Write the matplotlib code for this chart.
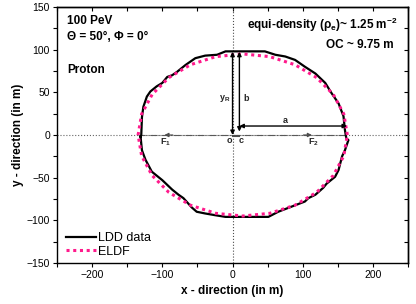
import numpy as np
import matplotlib
matplotlib.use("Agg")
import matplotlib.pyplot as plt
from matplotlib.ticker import MultipleLocator

plt.rcParams["font.family"] = ["Liberation Sans", "DejaVu Sans"]
plt.rcParams["mathtext.default"] = "regular"

# LDD data (equi-density contour)
ldd_x = [-131, -130, -129, -127, -122, -117, -108, -100, -93, -86, -79, -67, -53,
         -39, -22, -10, 1, 20, 46, 61, 75, 89, 103, 118, 132, 141, 151, 158, 160,
         162, 165, 160, 156, 151, 146, 134, 129, 118, 108, 103, 84, 65, 51, 20,
         -10, -25, -39, -51, -58, -70, -77, -86, -100, -115, -124, -129, -131]
ldd_y = [-2, 0, 21, 33, 45, 51, 57, 61, 68, 70, 74, 82, 90,
         93, 94, 98, 98, 98, 98, 94, 92, 88, 80, 72, 61, 49, 37, 22, 6,
         -4, -6, -18, -25, -41, -49, -57, -62, -70, -74, -78, -84, -90, -96, -96,
         -96, -94, -92, -90, -85, -74, -70, -64, -53, -43, -29, -18, -2]

# ELDF (fitted ellipse)
eldf_x = [163.5, 158.4, 143.5, 119.8, 89.0, 53.1, 14.5, -24.1, -60.0, -90.8, -114.5,
          -129.4, -134.5, -129.4, -114.5, -90.8, -60.0, -24.1, 14.5, 53.1, 89.0,
          119.8, 143.5, 158.4, 163.5]
eldf_y = [0, 24.6, 47.5, 67.2, 82.3, 91.8, 95.0, 91.8, 82.3, 67.2, 47.5,
          24.6, 0, -24.6, -47.5, -67.2, -82.3, -91.8, -95.0, -91.8, -82.3,
          -67.2, -47.5, -24.6, 0]

oc = 9.75
y_r = 97.5
a_end = 163
f1 = -97
f2 = 113

fig = plt.figure(figsize=(4.16, 3.04), dpi=100)
ax = fig.add_axes([0.137, 0.135, 0.844, 0.842])

ax.axhline(0, color="0.4", ls=":", lw=0.8, zorder=1)
ax.axvline(0, color="0.3", ls=":", lw=0.8, zorder=1)
ax.plot([-134, 163], [0, 0], color="0.35", ls="-.", lw=0.8, zorder=1)

ax.plot(ldd_x, ldd_y, color="k", lw=1.6, label="LDD data", zorder=3)
ax.plot(eldf_x, eldf_y, color="#ff1a8c", ls=(0, (1, 1.2)), lw=2.2,
        label="ELDF", zorder=4)

arr = dict(arrowstyle="<|-|>", color="k", lw=1.0, mutation_scale=6,
           shrinkA=0, shrinkB=0)
ax.annotate("", xy=(0, y_r), xytext=(0, 0), arrowprops=arr, zorder=5)
ax.annotate("", xy=(oc, y_r), xytext=(oc, 4), arrowprops=arr, zorder=5)
ax.annotate("", xy=(a_end, 10.5), xytext=(oc, 10.5), arrowprops=arr, zorder=5)
ax.plot([0, oc], [-1, -1], color="0.3", lw=1.5, zorder=5)

small = dict(arrowstyle="-|>", color="0.3", lw=0.8, mutation_scale=6,
             shrinkA=0, shrinkB=0)
ax.annotate("", xy=(f1, 0), xytext=(f1 + 12, 0), arrowprops=small)
ax.annotate("", xy=(f2, 0), xytext=(f2 - 12, 0), arrowprops=small)

lab = dict(fontsize=6.5, fontweight="bold", color="0.15")
ax.text(f1 + 2, -9, r"F$_1$", ha="center", va="center", **lab)
ax.text(f2 + 2, -9, r"F$_2$", ha="center", va="center", **lab)
ax.text(-3, 43, r"y$_R$", ha="right", va="center", **lab)
ax.text(15, 43, "b", ha="left", va="center", **lab)
ax.text(75, 17, "a", ha="center", va="center", **lab)
ax.text(-5, -6, "o", ha="center", va="center", **lab)
ax.text(12, -6, "c", ha="center", va="center", **lab)

big = dict(fontsize=8.5, fontweight="bold")
ax.text(-236, 134, "100 PeV", ha="left", va="center", **big)
ax.text(-236, 115, "Θ = 50°, Φ = 0°", ha="left", va="center", **big)
ax.text(-236, 76, "Proton", ha="left", va="center", **big)
ax.text(235, 129, r"equi-density ($\rho_e$)~ 1.25 m$^{-2}$", ha="right",
        va="center", **big)
ax.text(229, 105, "OC ~ 9.75 m", ha="right", va="center", **big)

ax.set_xlim(-250, 250)
ax.set_ylim(-150, 150)
ax.xaxis.set_major_locator(MultipleLocator(100))
ax.xaxis.set_minor_locator(MultipleLocator(50))
ax.yaxis.set_major_locator(MultipleLocator(50))
ax.yaxis.set_minor_locator(MultipleLocator(25))
ax.tick_params(which="both", direction="out", length=3, width=0.8,
               labelsize=7.5, pad=2)

top = ax.secondary_xaxis("top")
top.xaxis.set_major_locator(MultipleLocator(50))
top.tick_params(direction="in", length=3, width=0.8, labeltop=False)
right = ax.secondary_yaxis("right")
right.yaxis.set_major_locator(MultipleLocator(25))
right.tick_params(direction="in", length=3, width=0.8, labelright=False)
for s in list(ax.spines.values()) + [top.spines["top"], right.spines["right"]]:
    s.set_linewidth(1.0)

ax.set_xlabel("x - direction (in m)", fontsize=8.5, fontweight="bold", labelpad=4)
ax.set_ylabel("y - direction (in m)", fontsize=8.5, fontweight="bold", labelpad=2)

ax.legend(loc="lower left", bbox_to_anchor=(0.025, 0.02), frameon=False,
          fontsize=9, handlelength=2.4, handletextpad=0.2, labelspacing=0.15,
          borderpad=0, borderaxespad=0)

fig.savefig("out.png", dpi=100)
